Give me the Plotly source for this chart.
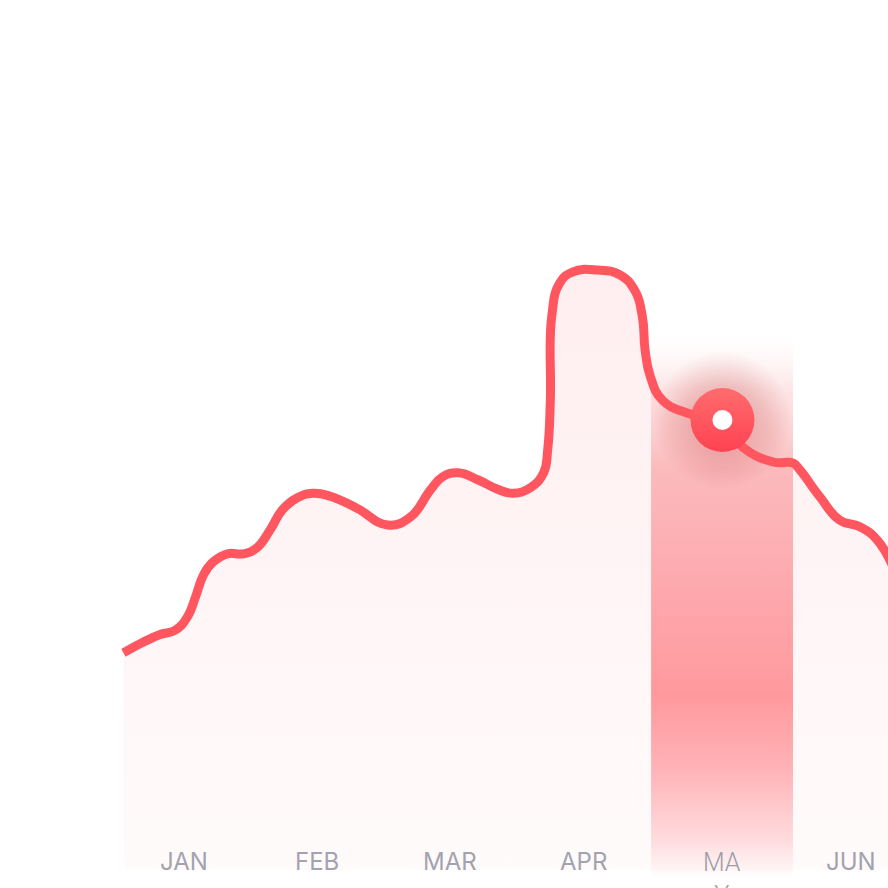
import plotly.graph_objects as go

# ---- data (x in month units: 0 = JAN ... 5 = JUN) ----
months = ["JAN", "FEB", "MAR", "APR", "MAY", "JUN"]
month_pos = [0, 1, 2, 3, 4, 5]

line_x = [-0.45, -0.30, -0.18, -0.06, 0.03, 0.09, 0.15, 0.22, 0.33, 0.45, 0.55, 0.65,
          0.74, 0.85, 0.97, 1.10, 1.30, 1.53, 1.70, 1.85, 1.94, 2.06, 2.21, 2.35, 2.47,
          2.60, 2.70, 2.73, 2.75, 2.76, 2.82, 2.92, 3.10, 3.27, 3.38, 3.44, 3.46, 3.50,
          3.59, 3.77, 4.04, 4.19, 4.42, 4.57, 4.62, 4.77, 4.92, 5.07, 5.20, 5.33]
line_y = [36.2, 38.0, 39.2, 40.0, 42.2, 45.5, 49.2, 51.3, 52.7, 52.7, 53.7, 56.7,
          60.0, 62.0, 62.8, 62.3, 60.3, 57.5, 58.8, 63.3, 65.5, 66.2, 65.0, 63.5, 62.8,
          63.7, 66.2, 70.0, 78.3, 92.2, 97.8, 99.7, 100.0, 99.2, 96.7, 92.2, 86.7, 82.2,
          78.3, 76.2, 74.7, 70.5, 68.0, 67.8, 66.7, 62.2, 58.3, 57.2, 55.0, 50.0]

highlight_month = "MAY"
band_x = [3.505, 4.569]
band_y = [-1.2, 89.3]
point_x = [4.04]
point_y = [75.0]

x_range = [-1.3756, 5.2811]
y_range = [-3.0, 145.0]

fig = go.Figure()

# area under the curve
fig.add_trace(go.Scatter(
    x=line_x, y=line_y, mode="none", fill="tozeroy",
    line=dict(shape="spline", smoothing=1.3),
    fillgradient=dict(type="vertical", start=0, stop=max(line_y),
                      colorscale=[[0, "rgba(255,251,251,1)"], [1, "rgba(255,238,240,1)"]]),
    hoverinfo="skip"))

# highlighted month band
fig.add_trace(go.Scatter(
    x=[band_x[0], band_x[1], band_x[1], band_x[0], band_x[0]],
    y=[band_y[0], band_y[0], band_y[1], band_y[1], band_y[0]],
    mode="none", fill="toself",
    fillgradient=dict(type="vertical", start=band_y[0], stop=band_y[1],
                      colorscale=[[0.0, "rgba(255,160,165,0.0)"],
                                  [0.07, "rgba(255,160,165,0.35)"],
                                  [0.2, "rgba(255,155,160,0.75)"],
                                  [0.335, "rgba(255,150,155,0.97)"],
                                  [0.55, "rgba(253,160,165,0.88)"],
                                  [0.75, "rgba(250,170,172,0.78)"],
                                  [0.9, "rgba(250,200,200,0.45)"],
                                  [1.0, "rgba(255,230,230,0.0)"]]),
    hoverinfo="skip"))

# soft glow around highlighted point
for s in range(136, 66, -5):
    fig.add_trace(go.Scatter(
        x=point_x, y=point_y, mode="markers",
        marker=dict(size=s, color="rgba(170,70,80,0.016)", line=dict(width=0)),
        hoverinfo="skip"))

# main line
fig.add_trace(go.Scatter(
    x=line_x, y=line_y, mode="lines",
    line=dict(color="#ff5660", width=9, shape="spline", smoothing=1.3),
    hoverinfo="skip"))

# highlighted point
fig.add_trace(go.Scatter(
    x=point_x, y=point_y, mode="markers",
    marker=dict(size=64, color="#ff6c6e", line=dict(width=0),
                gradient=dict(type="vertical", color="#ff4252")),
    hoverinfo="skip"))
fig.add_trace(go.Scatter(
    x=point_x, y=point_y, mode="markers",
    marker=dict(size=20, color="white", line=dict(width=0)),
    hoverinfo="skip"))

# month labels
for m, p in zip(months, month_pos):
    if m == highlight_month:
        fig.add_annotation(x=p, y=0.0473, xref="x", yref="paper", text="MA<br>Y",
                           showarrow=False, yanchor="top", xanchor="center", xshift=5,
                           font=dict(family="Roboto", size=25, color="#9c9ca8", weight=300))
    else:
        fig.add_annotation(x=p, y=0.0293, xref="x", yref="paper", text=m,
                           showarrow=False, yanchor="middle", xanchor="center",
                           font=dict(family="Inter", size=24, color="#a3a3b0"))

fig.update_layout(
    width=888, height=888, autosize=False,
    margin=dict(l=0, r=0, t=0, b=0),
    paper_bgcolor="white", plot_bgcolor="white",
    showlegend=False, hovermode=False,
    xaxis=dict(visible=False, range=x_range, fixedrange=True),
    yaxis=dict(visible=False, range=y_range, fixedrange=True),
)

fig.write_html("out.html", config={"displayModeBar": False, "staticPlot": True},
               post_script="document.body.style.margin='0';document.body.style.overflow='hidden';")
